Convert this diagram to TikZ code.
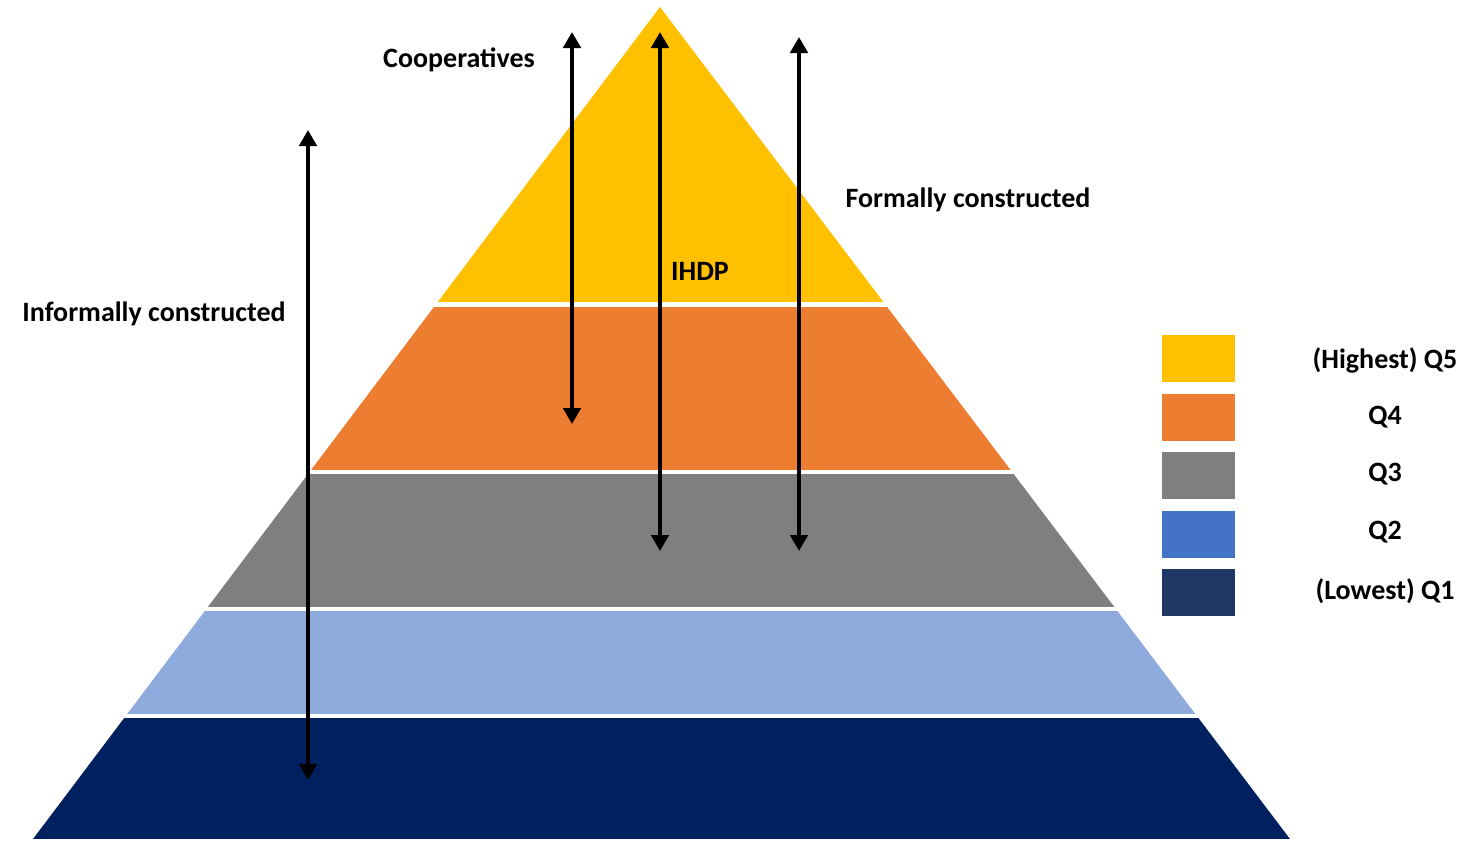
\documentclass[tikz,border=0pt]{standalone}
\usepackage{fontspec}
\setmainfont{Carlito}
\usetikzlibrary{positioning,arrows.meta}
\definecolor{qFive}{HTML}{FFC000}
\definecolor{qFour}{HTML}{ED7D31}
\definecolor{qThree}{HTML}{7F7F7F}
\definecolor{qTwo}{HTML}{8FAADC}
\definecolor{qTwoL}{HTML}{4472C4}
\definecolor{qOne}{HTML}{002060}
\definecolor{qOneL}{HTML}{203864}
\tikzset{
  py-label/.style={font=\fontsize{21}{25}\selectfont\bfseries, text=black,
    inner sep=0pt},
  py-arrow/.style={{Triangle[width=13pt,length=12pt]}-{Triangle[width=13pt,length=12pt]},
    line width=2.9pt, draw=black},
  leg-box/.style={minimum width=54.75pt, minimum height=35.25pt,
    inner sep=0pt, draw=none},
  leg-label/.style={py-label}
}
\begin{document}
\begin{tikzpicture}[x=0.75pt, y=-0.75pt]
\useasboundingbox (0,0) rectangle (1477,857);

% Pyramid
\coordinate (apex) at (660,7);
\coordinate (baseR) at (1290,839);
\coordinate (baseL) at (33,839);
\begin{scope}
  \clip (apex) -- (baseR) -- (baseL) -- cycle;
  \fill[qFive] (0,0) rectangle (1477,302);
  \fill[qFour] (0,307) rectangle (1477,470);
  \fill[qThree] (0,474) rectangle (1477,607);
  \fill[qTwo] (0,611) rectangle (1477,714);
  \fill[qOne] (0,718) rectangle (1477,839);
\end{scope}

% Arrows
\coordinate (infTop) at (308,130);
\coordinate (infBot) at (308,780);
\coordinate (coopTop) at (572,32);
\coordinate (coopBot) at (572,424);
\coordinate (ihdpTop) at (660,32);
\coordinate (ihdpBot) at (660,551);
\coordinate (forTop) at (799,37);
\coordinate (forBot) at (799,551);
\draw[py-arrow] (infTop) -- (infBot);
\draw[py-arrow] (coopTop) -- (coopBot);
\draw[py-arrow] (ihdpTop) -- (ihdpBot);
\draw[py-arrow] (forTop) -- (forBot);

% Labels
\node[py-label] (inf) at (154,314) {Informally constructed};
\node[py-label] (coop) at (459,60) {Cooperatives};
\node[py-label] (ihdp) at (700,271) {IHDP};
\node[py-label] (form) at (968,200) {Formally constructed};

% Legend
\node[leg-box, fill=qFive] (lgFive) at (1198.5,358.5) {};
\node[leg-box, fill=qFour, below=8.25pt of lgFive] (lgFour) {};
\node[leg-box, fill=qThree, below=8.25pt of lgFour] (lgThree) {};
\node[leg-box, fill=qTwoL, below=8.25pt of lgThree] (lgTwo) {};
\node[leg-box, fill=qOneL, below=8.25pt of lgTwo] (lgOne) {};
\node[leg-label] (txFive) at (1385,360) {(Highest) Q5};
\node[leg-label] (txFour) at (1385,417) {Q4};
\node[leg-label] (txThree) at (1385,474) {Q3};
\node[leg-label] (txTwo) at (1385,532) {Q2};
\node[leg-label] (txOne) at (1385,591) {(Lowest) Q1};
\end{tikzpicture}
\end{document}
